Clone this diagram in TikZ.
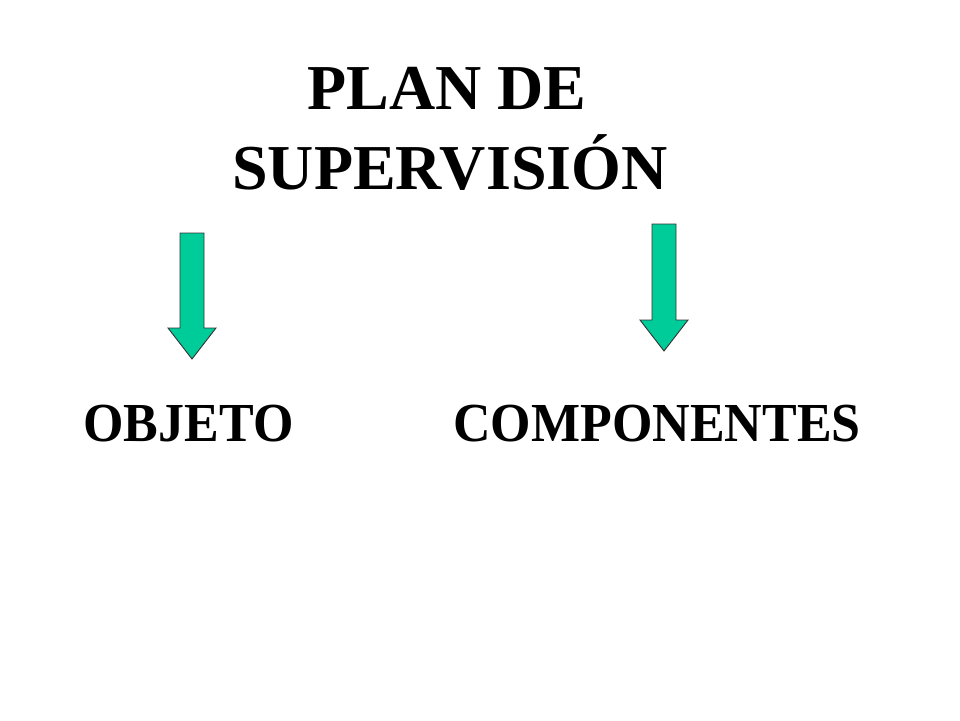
\documentclass[tikz,border=0pt]{standalone}
\usepackage{fontspec}
\setmainfont{Liberation Serif}
\definecolor{arrowgreen}{RGB}{0,204,153}
\tikzset{
  blockarrow/.style={fill=arrowgreen, draw=black!80, line width=0.9pt, line join=miter},
  titletext/.style={inner sep=0pt, anchor=base, font=\bfseries\fontsize{64}{76}\selectfont},
  labeltext/.style={inner sep=0pt, anchor=base, xscale=0.945, font=\bfseries\fontsize{55}{66}\selectfont}
}
\begin{document}
\begin{tikzpicture}[x=1pt,y=-1pt]
\useasboundingbox[fill=white] (0,0) rectangle (960,720);
\node[titletext] (t1) at (447,109.5) {PLAN DE};
\node[titletext] (t2) at (450,189.5) {SUPERVISIÓN};
\draw[blockarrow] (180,233) -- (204,233) -- (204,328) -- (216,328) -- (192,359) -- (168,328) -- (180,328) -- cycle;
\draw[blockarrow] (652,224) -- (676,224) -- (676,320) -- (688,320) -- (664,351) -- (640,320) -- (652,320) -- cycle;
\node[labeltext] (obj) at (188.5,441.7) {OBJETO};
\node[labeltext] (comp) at (657,441.7) {COMPONENTES};
\end{tikzpicture}
\end{document}
